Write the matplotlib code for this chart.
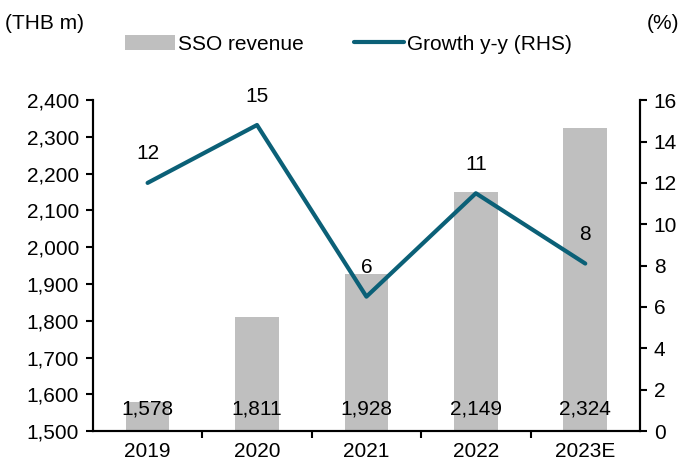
import numpy as np
import matplotlib.pyplot as plt
from matplotlib.ticker import FuncFormatter, FixedLocator

plt.rcParams['font.family'] = ['Liberation Sans', 'DejaVu Sans']
fs = 15
plt.rcParams['font.size'] = fs

years = ['2019', '2020', '2021', '2022', '2023E']
revenue = [1578, 1811, 1928, 2149, 2324]
growth = [12.0, 14.8, 6.5, 11.5, 8.1]
growth_labels = ['12', '15', '6', '11', '8']

bar_color = '#bfbfbf'
line_color = '#0b6077'

fig = plt.figure(figsize=(6.83, 4.66), dpi=100)
ax = fig.add_axes([0.136, 0.075, 0.801, 0.71])
ax2 = ax.twinx()

x = np.arange(len(years))
ax.bar(x, revenue, width=0.4, color=bar_color, label='SSO revenue', zorder=1)
for xi, v in zip(x, revenue):
    ax.text(xi, 1535, f'{v:,}', ha='center', va='bottom', fontsize=fs, zorder=3)

ax2.plot(x, growth, color=line_color, lw=3, solid_capstyle='round',
         label='Growth y-y (RHS)', zorder=2)
for xi, g, lab in zip(x, growth, growth_labels):
    ax2.annotate(lab, (xi, g), xytext=(0, 14), textcoords='offset points',
                 ha='center', va='bottom', fontsize=fs)

ax.set_xlim(-0.5, len(years) - 0.5)
ax.set_ylim(1500, 2400)
ax.set_yticks(np.arange(1500, 2401, 100))
ax.yaxis.set_major_formatter(FuncFormatter(lambda v, p: f'{v:,.0f}'))
ax2.set_ylim(0, 16)
ax2.set_yticks(np.arange(0, 17, 2))

ax.set_xticks(x)
ax.set_xticklabels(years)
ax.tick_params(axis='x', which='major', length=0, pad=8)
ax.xaxis.set_minor_locator(FixedLocator(np.arange(0.5, len(years) - 1, 1)))
ax.tick_params(axis='x', which='minor', length=5, width=1.5, direction='out')
ax.tick_params(axis='y', length=5, width=1.5, direction='out', pad=5)
ax2.tick_params(axis='y', length=5, width=1.5, direction='out', pad=5)

for a in (ax, ax2):
    a.spines['top'].set_visible(False)
    for s in ('left', 'right', 'bottom'):
        a.spines[s].set_linewidth(1.5)

fig.text(0.008, 0.95, '(THB m)', ha='left', va='center', fontsize=fs)
fig.text(0.995, 0.95, '(%)', ha='right', va='center', fontsize=fs)

h1, l1 = ax.get_legend_handles_labels()
h2, l2 = ax2.get_legend_handles_labels()
fig.legend(h1 + h2, l1 + l2, loc='center', bbox_to_anchor=(0.51, 0.905),
           ncol=2, frameon=False, handlelength=2.4, handletextpad=0.15,
           columnspacing=2.4, fontsize=fs)

fig.savefig('out.png', dpi=100)
